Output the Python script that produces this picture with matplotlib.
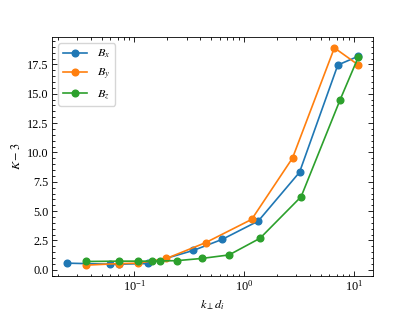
import matplotlib
matplotlib.use("Agg")
import matplotlib.pyplot as plt

# k_perp d_i positions and K-3 values
kx = [0.024, 0.0597, 0.0722, 0.134, 0.344, 0.634, 1.35, 3.21, 7.18, 11.07]
bx = [0.57, 0.48, 0.48, 0.54, 1.65, 2.6, 4.16, 8.31, 17.45, 18.2]

ky = [0.036, 0.0722, 0.1076, 0.196, 0.447, 1.175, 2.77, 6.68, 11.07]
by = [0.40, 0.53, 0.57, 0.97, 2.32, 4.30, 9.52, 18.91, 17.45]

kz = [0.036, 0.0722, 0.1076, 0.146, 0.171, 0.243, 0.411, 0.730, 1.40, 3.32, 7.53, 11.07]
bz = [0.71, 0.74, 0.74, 0.74, 0.76, 0.78, 0.97, 1.27, 2.69, 6.23, 14.48, 18.15]

plt.rcParams.update({
    "font.family": "serif",
    "font.serif": ["Liberation Serif", "DejaVu Serif"],
    "mathtext.fontset": "stix",
    "font.size": 8.8,
    "axes.linewidth": 0.6,
    "axes.labelpad": 3,
    "xtick.direction": "in",
    "ytick.direction": "in",
    "xtick.top": True,
    "ytick.right": True,
    "xtick.major.size": 3.5,
    "ytick.major.size": 3.5,
    "xtick.minor.size": 1.8,
    "ytick.minor.size": 1.8,
    "xtick.major.width": 0.6,
    "ytick.major.width": 0.6,
    "xtick.minor.width": 0.6,
    "ytick.minor.width": 0.6,
    "xtick.major.pad": 2.5,
    "ytick.major.pad": 2.5,
    "xtick.minor.visible": True,
    "ytick.minor.visible": True,
})

fig = plt.figure(figsize=(4.15, 3.11), dpi=100)
ax = fig.add_axes([52 / 415, 1 - 276 / 311, 321 / 415, 239 / 311])

ax.plot(kx, bx, marker="o", ms=4.8, lw=1.2, label="$B_x$")
ax.plot(ky, by, marker="o", ms=4.8, lw=1.2, label="$B_y$")
ax.plot(kz, bz, marker="o", ms=4.8, lw=1.2, label="$B_z$")

ax.set_xscale("log")
ax.set_xlabel(r"$k_\perp d_i$")
ax.set_ylabel("$K-3$")
ax.legend(loc="upper left")

fig.savefig("out.png", dpi=100)
